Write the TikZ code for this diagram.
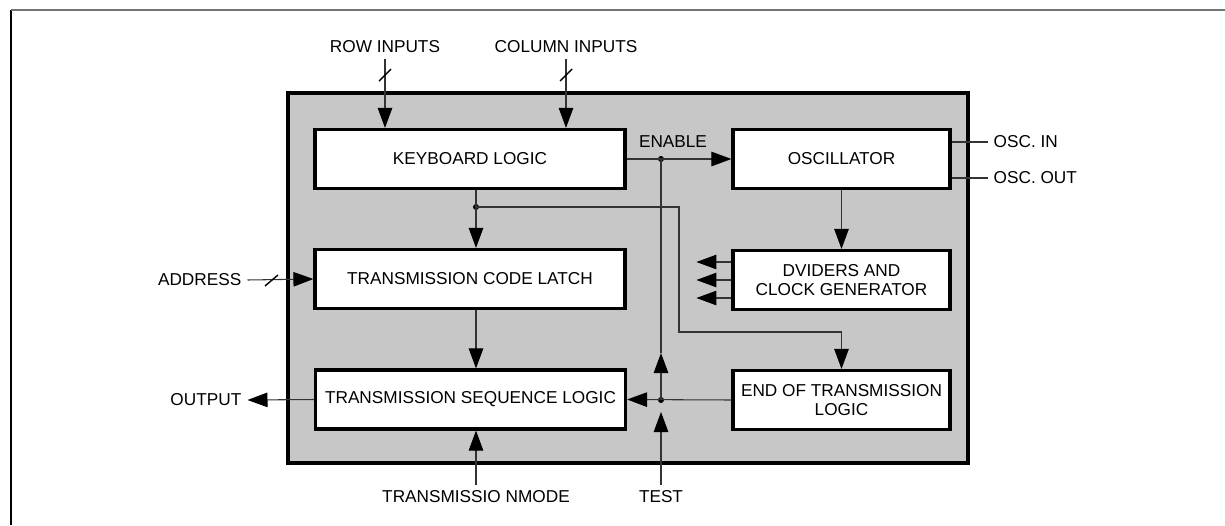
\documentclass[tikz,border=0pt]{standalone}
\usepackage{fontspec}
\setmainfont{Liberation Sans}
\usetikzlibrary{arrows.meta}

\begin{document}
\begin{tikzpicture}[>={Triangle[length=4mm,width=2.9mm,color=black]}, font=\fontsize{9.8}{11.2}\selectfont,
	blk/.style={draw, line width=1.8pt, fill=white, minimum width=6.2cm, minimum height=1.18cm, align=center, inner sep=0pt},
	sblk/.style={blk, minimum width=4.34cm},
	wire/.style={line width=0.6pt, black!80},
	jdot/.style={circle, fill=black, inner sep=0pt, minimum size=1.2mm}]
		\useasboundingbox (0,0) rectangle (24.5,-10.5);
		\draw[line width=1.2pt] (0.22,-10.5) -- (0.22,-0.2);
		\draw[line width=1.2pt, black!55] (0.22,-0.2) -- (24.5,-0.2);
		\draw[line width=2.4pt, fill=black!22] (5.76,-1.86) rectangle (19.36,-9.26);

		\node[blk] (kbd) at (9.4,-3.18) {KEYBOARD LOGIC};
		\node[blk] (latch) at (9.4,-5.58) {TRANSMISSION CODE LATCH};
		\node[blk] (seq) at (9.41,-7.99) {TRANSMISSION SEQUENCE LOGIC};
		\node[sblk] (osc) at (16.83,-3.18) {OSCILLATOR};
		\node[sblk] (div) at (16.83,-5.6) {DVIDERS AND\\CLOCK GENERATOR};
		\node[sblk] (eot) at (16.83,-8.0) {END OF TRANSMISSION\\LOGIC};

		\node (row) at (7.7,-0.94) {ROW INPUTS};
		\node (col) at (11.32,-0.94) {COLUMN INPUTS};
		\node (en) at (13.46,-2.84) {ENABLE};
		\node[anchor=west] (oscin) at (19.75,-2.84) {OSC. IN};
		\node[anchor=west] (oscout) at (19.75,-3.56) {OSC. OUT};
		\node[anchor=east] (addr) at (4.95,-5.6) {ADDRESS};
		\node[anchor=east] (out) at (4.95,-8.0) {OUTPUT};
		\node (mode) at (9.52,-9.94) {TRANSMISSIO NMODE};
		\node (test) at (13.22,-9.94) {TEST};

		\node[jdot] (kj) at (9.52,-4.14) {};
		\node[jdot] (ej) at (13.22,-3.18) {};
		\node[jdot] (tj) at (13.22,-8.0) {};
		\coordinate (tup) at (13.22,-7.06);
		\coordinate (ttip) at (13.22,-8.24);

		\draw[wire,->] (row.south) -- (row.south |- kbd.north);
		\draw[wire,->] (col.south) -- (col.south |- kbd.north);
		\draw[line width=0.8pt] (7.58,-1.62) -- (7.82,-1.38);
		\draw[line width=0.8pt] (11.2,-1.62) -- (11.44,-1.38);

		\draw[wire,->] (kbd.east) -- (osc.west);
		\draw[wire] (osc.east |- oscin) -- (oscin.west);
		\draw[wire] (osc.east |- oscout) -- (oscout.west);
		\draw[wire,->] (osc.south) -- (div.north);
		\foreach \dy in {-0.36,0,0.36}
			\draw[wire,->] ([yshift=\dy cm]div.west) -- ++(-0.7,0);

		\draw[wire] (kbd.south -| kj) -- (kj.center);
		\draw[wire,->] (kj.center) -- (latch.north -| kj);
		\draw[wire,->] (kj.center) -| (13.58,-6.64) -| (eot.north);
		\draw[wire,->] (latch.south -| mode.north) -- (seq.north -| mode.north);
		\draw[wire,->] (mode.north) -- (seq.south -| mode.north);

		\draw[wire,->] (addr.east) -- (latch.west);
		\draw[line width=0.8pt] (5.3,-5.72) -- (5.56,-5.5);
		\draw[wire,->] (seq.west) -- (out.east);

		\draw[wire,->] (eot.west) -- (seq.east);
		\draw[wire,->] (tj.center) -- (tup);
		\draw[wire] (tup) -- (ej.center);
		\draw[wire,->] (test.north) -- (ttip);
	\end{tikzpicture}
\end{document}
